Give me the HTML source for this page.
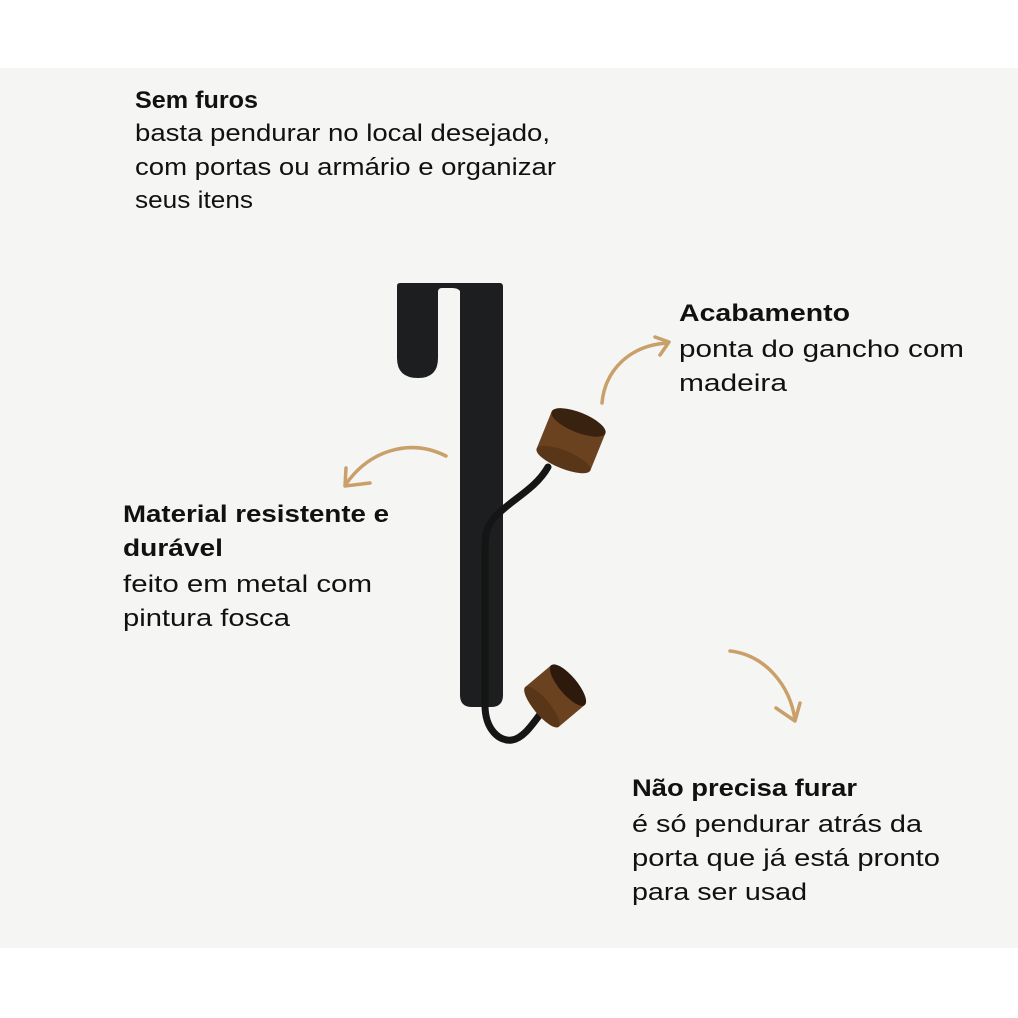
<!DOCTYPE html>
<html><head><meta charset="utf-8"><style>
html,body{margin:0;padding:0;background:#fff}
svg{display:block}
text{font-family:"Liberation Sans",sans-serif;font-size:24px;fill:#111}
.b{font-weight:bold}
</style></head><body>
<svg width="1018" height="1018" viewBox="0 0 1018 1018" xmlns="http://www.w3.org/2000/svg">
<rect x="0" y="0" width="1018" height="1018" fill="#fff"/>
<rect x="0" y="68" width="1018" height="880" fill="#f5f5f4"/>

<text class="b" x="135" y="108" textLength="123" lengthAdjust="spacingAndGlyphs">Sem furos</text>
<text x="135" y="141" textLength="415" lengthAdjust="spacingAndGlyphs">basta pendurar no local desejado,</text>
<text x="135" y="175" textLength="421" lengthAdjust="spacingAndGlyphs">com portas ou armário e organizar</text>
<text x="135" y="208" textLength="118" lengthAdjust="spacingAndGlyphs">seus itens</text>

<text class="b" x="679" y="321" textLength="171" lengthAdjust="spacingAndGlyphs">Acabamento</text>
<text x="679" y="357" textLength="285" lengthAdjust="spacingAndGlyphs">ponta do gancho com</text>
<text x="679" y="391" textLength="108" lengthAdjust="spacingAndGlyphs">madeira</text>

<text class="b" x="123" y="522" textLength="266" lengthAdjust="spacingAndGlyphs">Material resistente e</text>
<text class="b" x="123" y="556" textLength="100" lengthAdjust="spacingAndGlyphs">durável</text>
<text x="123" y="592" textLength="249" lengthAdjust="spacingAndGlyphs">feito em metal com</text>
<text x="123" y="626" textLength="167" lengthAdjust="spacingAndGlyphs">pintura fosca</text>

<text class="b" x="632" y="796" textLength="225" lengthAdjust="spacingAndGlyphs">Não precisa furar</text>
<text x="632" y="832" textLength="290" lengthAdjust="spacingAndGlyphs">é só pendurar atrás da</text>
<text x="632" y="866" textLength="308" lengthAdjust="spacingAndGlyphs">porta que já está pronto</text>
<text x="632" y="900" textLength="175" lengthAdjust="spacingAndGlyphs">para ser usad</text>

<g fill="none" stroke="#c9a06a" stroke-width="3.5" stroke-linecap="round" stroke-linejoin="round">
<path d="M602,403 C605,370 630,345 668,343"/>
<path d="M655,337 L669,342 L660,355"/>
<path d="M446,456 C410,438 370,450 346,484"/>
<path d="M346,468 L345,486 L370,483"/>
<path d="M730,651 C765,655 790,685 795,720"/>
<path d="M776,708 L795,721 L800,703"/>
</g>

<g fill="#1c1e1f">
<path d="M397,286 Q397,283 400,283 L500,283 Q503,283 503,287 L503,695 Q503,707 491,707 L472,707 Q460,707 460,695 L460,291 Q458,288 452,288 L442,288 Q438,288 438,292 L438,358 Q438,378 418,378 Q397,378 397,358 Z"/>
</g>
<g fill="none" stroke="#151515" stroke-width="7" stroke-linecap="round">
<path d="M548,467 C535,490 510,500 494,518 C486,528 485,535 485,550 L485,705 C485,730 500,742 512,740 C525,738 535,720 545,708"/>
</g>
<g transform="translate(571,441) rotate(22)">
<rect x="-29" y="-20" width="58" height="40" fill="#6b4220"/>
<ellipse cx="0" cy="20" rx="29" ry="9" fill="#5a3619"/>
<ellipse cx="0" cy="-20" rx="29" ry="10" fill="#3a2210"/>
</g>
<g transform="translate(555,696) rotate(50)">
<rect x="-26" y="-17" width="52" height="34" fill="#6b4220"/>
<ellipse cx="0" cy="17" rx="26" ry="8" fill="#5a3619"/>
<ellipse cx="0" cy="-17" rx="26" ry="9" fill="#2e1a0c"/>
</g>
</svg>
</body></html>
